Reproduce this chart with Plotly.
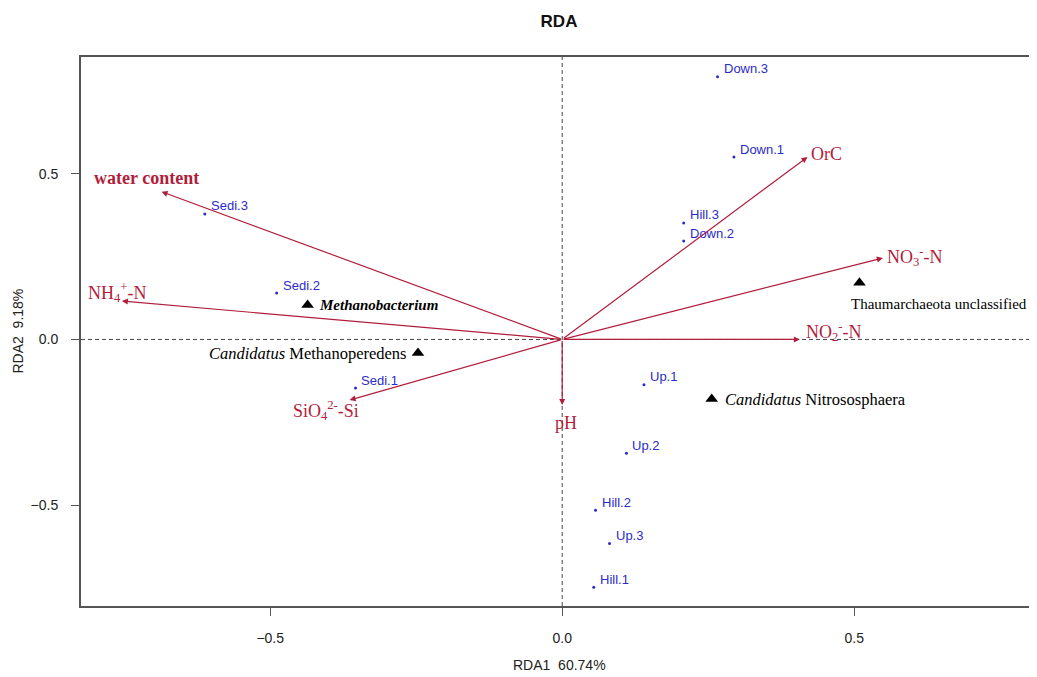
import plotly.graph_objects as go

# ---- data ----
site_names = ["Down.3", "Down.1", "Hill.3", "Down.2", "Sedi.3", "Sedi.2", "Sedi.1",
              "Up.1", "Up.2", "Hill.2", "Up.3", "Hill.1"]
site_rda1 = [0.266, 0.294, 0.208, 0.208, -0.612, -0.489, -0.354, 0.140, 0.110, 0.057, 0.081, 0.054]
site_rda2 = [0.793, 0.551, 0.352, 0.297, 0.379, 0.140, -0.147, -0.137, -0.344, -0.516, -0.616, -0.748]

env_names = ["water content", "NH<sub>4</sub><sup>+</sup>-N", "SiO<sub>4</sub><sup>2-</sup>-Si", "pH",
             "NO<sub>2</sub><sup>-</sup>-N", "NO<sub>3</sub><sup>-</sup>-N", "OrC"]
env_rda1 = [-0.686, -0.754, -0.364, 0.0, 0.407, 0.549, 0.420]
env_rda2 = [0.446, 0.116, -0.183, -0.198, 0.0, 0.246, 0.551]

species_names = ["<i>Methanobacterium</i>", "<i>Candidatus</i> Methanoperedens",
                 "Thaumarchaeota unclassified", "<i>Candidatus</i> Nitrososphaera"]
species_rda1 = [-0.436, -0.247, 0.509, 0.256]
species_rda2 = [0.104, -0.041, 0.171, -0.180]

x_ticks = [-0.5, 0.0, 0.5]
x_tick_text = ["\u22120.5", "0.0", "0.5"]
y_ticks = [-0.5, 0.0, 0.5]
y_tick_text = ["\u22120.5", "0.0", "0.5"]

x_title = "RDA1\u00a0\u00a060.74%"
y_title = "RDA2\u00a0\u00a09.18%"

# ---- styles ----
RED = "#B01E3C"
BLUE = "#2B2BCC"
SERIF = "Liberation Serif, Times New Roman, serif"
SANS = "Liberation Sans, Arial, sans-serif"

# label placement per env vector: (xanchor, xshift, yshift, bold)
env_label_style = [
    ("center", -15, 14, True),
    ("center", -5, 9, False),
    ("center", -24, -10, False),
    ("center", 4, -18, False),
    ("left", 4, 8, False),
    ("left", 2, 1, False),
    ("left", 2, 3, False),
]
# species label placement: (xanchor, xshift, yshift, bold, size)
species_label_style = [
    ("left", 9, 0, True, 15),
    ("right", -9, 0, False, 16.5),
    ("left", -10, -21, False, 15),
    ("left", 11, 0, False, 16.5),
]

fig = go.Figure()

# sites
fig.add_trace(go.Scatter(
    x=site_rda1, y=site_rda2, mode="markers",
    marker=dict(color=BLUE, size=3), hoverinfo="text", text=site_names, showlegend=False))

# species
fig.add_trace(go.Scatter(
    x=species_rda1, y=species_rda2, mode="markers",
    marker=dict(color="black", size=11, symbol="triangle-up"),
    hoverinfo="skip", showlegend=False))

# zero lines
fig.add_hline(y=0, line=dict(color="#444", width=1, dash="4px,3px"), layer="below")
fig.add_vline(x=0, line=dict(color="#444", width=1, dash="4px,3px"), layer="below")

annotations = []
# site labels
for n, x, y in zip(site_names, site_rda1, site_rda2):
    annotations.append(dict(x=x, y=y, text=n, showarrow=False, xanchor="left", yanchor="middle",
                            xshift=4, yshift=8, font=dict(family=SANS, size=13, color=BLUE)))
# env arrows
for n, x, y, st in zip(env_names, env_rda1, env_rda2, env_label_style):
    annotations.append(dict(x=x, y=y, ax=0, ay=0, axref="x", ayref="y", xref="x", yref="y",
                            text="", showarrow=True, arrowhead=2, arrowsize=1.0, arrowwidth=1.2,
                            arrowcolor=RED, standoff=0))
    xa, xs, ys, bold = st
    txt = "<b>" + n + "</b>" if bold else n
    annotations.append(dict(x=x, y=y, text=txt, showarrow=False, xanchor=xa, yanchor="middle",
                            xshift=xs, yshift=ys, font=dict(family=SERIF, size=18, color=RED)))
# species labels
for n, x, y, st in zip(species_names, species_rda1, species_rda2, species_label_style):
    xa, xs, ys, bold, fs = st
    txt = "<b>" + n + "</b>" if bold else n
    annotations.append(dict(x=x, y=y, text=txt, showarrow=False, xanchor=xa, yanchor="middle",
                            xshift=xs, yshift=ys, font=dict(family=SERIF, size=fs, color="black")))

# axis titles
annotations.append(dict(x=0.5, y=0, xref="paper", yref="paper", text=x_title, showarrow=False,
                        xanchor="center", yanchor="middle", yshift=-59,
                        font=dict(family=SANS, size=14, color="#222")))
annotations.append(dict(x=0, y=0.5, xref="paper", yref="paper", text=y_title, showarrow=False,
                        xanchor="center", yanchor="middle", xshift=-64, textangle=-90,
                        font=dict(family=SANS, size=14, color="#222")))

# page has an 8px body margin: figure is sized to fill the rest of the 1037x677 window
fig.update_layout(
    width=1029, height=669,
    margin=dict(l=73, r=0, t=49, b=71, autoexpand=False),
    paper_bgcolor="white", plot_bgcolor="white",
    title=dict(text="<b>RDA</b>", x=0.5, xref="paper", y=1 - 13 / 669, yref="container",
               xanchor="center", yanchor="middle", font=dict(family=SANS, size=17, color="#111")),
    annotations=annotations,
    xaxis=dict(range=[-0.824, 0.813], showgrid=False, zeroline=False, automargin=False,
               showline=True, mirror=True, linecolor="#555", linewidth=2,
               ticks="outside", ticklen=8, tickcolor="#555", tickwidth=1,
               tickvals=x_ticks, ticktext=x_tick_text, ticklabelstandoff=10,
               tickfont=dict(family=SANS, size=14, color="#222")),
    yaxis=dict(range=[-0.805, 0.853], showgrid=False, zeroline=False, automargin=False,
               showline=True, mirror=False, linecolor="#555", linewidth=2,
               ticks="outside", ticklen=8, tickcolor="#555", tickwidth=1,
               tickvals=y_ticks, ticktext=y_tick_text, ticklabelstandoff=10,
               tickfont=dict(family=SANS, size=14, color="#222")),
)

fig.write_html("out.html")
